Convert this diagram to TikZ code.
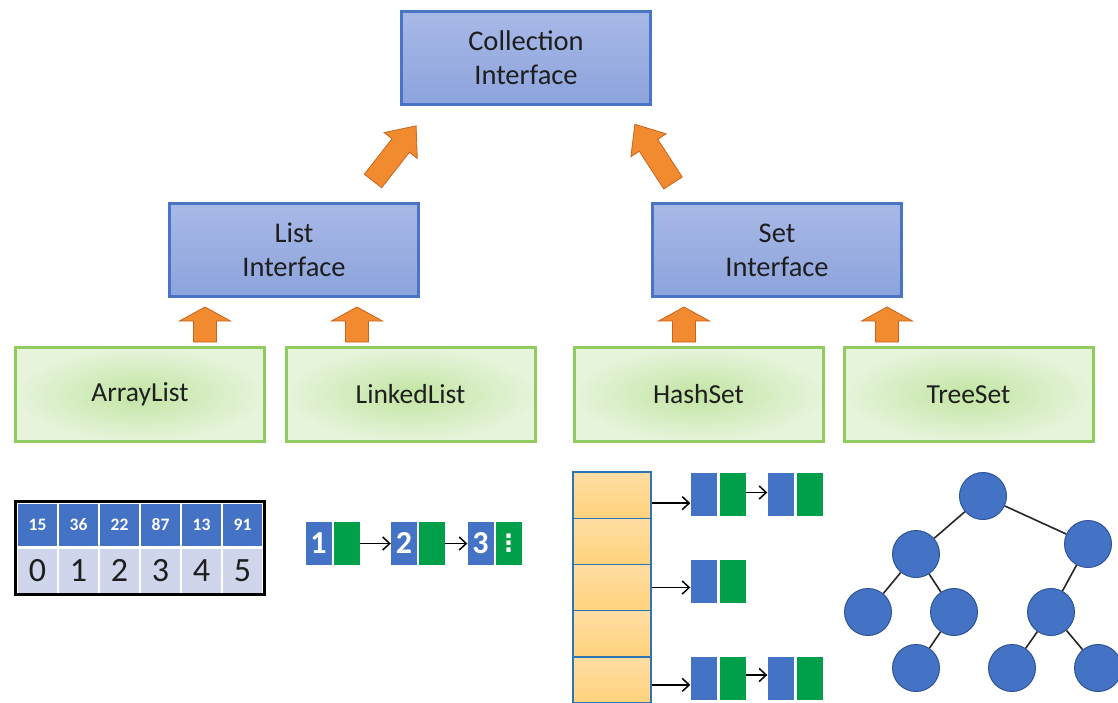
\documentclass[tikz,border=0pt]{standalone}
\usepackage{fontspec}
\setmainfont{Carlito}
\newfontfamily\symfont{DejaVu Sans}
\usetikzlibrary{arrows.meta}

\definecolor{txt}{HTML}{1E1E1E}
\definecolor{ifaceBorder}{HTML}{4A74C6}
\definecolor{ifaceTop}{HTML}{A8B9E7}
\definecolor{ifaceBot}{HTML}{8DA3DC}
\definecolor{implBorder}{HTML}{8FCB5E}
\definecolor{implIn}{HTML}{C2E4A2}
\definecolor{implOut}{HTML}{E6F4DB}
\definecolor{arrowFill}{HTML}{F28A30}
\definecolor{arrowEdge}{HTML}{C7651E}
\definecolor{cellBlue}{HTML}{4472C4}
\definecolor{cellGreen}{HTML}{00A04B}
\definecolor{cellLav}{HTML}{CFD5EA}
\definecolor{bucketTop}{HTML}{FFDDA3}
\definecolor{bucketBot}{HTML}{FFD27C}
\definecolor{bucketEdge}{HTML}{2E75B6}
\definecolor{treeEdge}{HTML}{2F5597}

\begin{document}
\begin{tikzpicture}[x=1pt,y=1pt,
  iface/.style={draw=ifaceBorder, line width=3pt, top color=ifaceTop, bottom color=ifaceBot,
    minimum width=249pt, minimum height=93pt, align=center, text=txt,
    font=\fontsize{28.5}{34}\selectfont},
  impl/.style={draw=implBorder, line width=3pt, inner color=implIn, outer color=implOut,
    minimum width=249pt, minimum height=94pt, align=center, text=txt,
    font=\fontsize{27.5}{34}\selectfont},
  orangeArrow/.style={fill=arrowFill, draw=arrowEdge, line width=0.8pt, line join=miter},
  topcell/.style={fill=cellBlue, minimum width=39pt, minimum height=42pt, inner sep=0pt,
    text=white, font=\fontsize{17.5}{19}\bfseries},
  idxcell/.style={fill=cellLav, minimum width=39pt, minimum height=44pt, inner sep=0pt,
    text=txt, font=\fontsize{34}{36}\selectfont},
  lnval/.style={fill=cellBlue, minimum width=26pt, minimum height=43pt, inner sep=0pt,
    text=white, font=\fontsize{32}{34}\bfseries},
  lnptr/.style={fill=cellGreen, minimum width=26pt, minimum height=43pt, inner sep=0pt,
    text=white, font=\fontsize{24}{26}\symfont\bfseries},
  bucket/.style={draw=bucketEdge, line width=1.4pt, top color=bucketTop, bottom color=bucketBot,
    minimum width=78pt, minimum height=46.2pt, inner sep=0pt},
  ptr/.style={line width=1.5pt, -{Straight Barb[length=7pt,width=13pt]}},
  leaf/.style={circle, fill=cellBlue, draw=treeEdge, line width=1pt, minimum size=47pt, inner sep=0pt},
  treeline/.style={line width=1.6pt, draw=black!85},
  smallarrow/.pic={\draw[orangeArrow] (-11.5,0) -- (-11.5,21) -- (-25.5,21) -- (0,35)
      -- (25.5,21) -- (11.5,21) -- (11.5,0) -- cycle;},
  bigarrow/.pic={\draw[orangeArrow] (-11,0) -- (-11,45) -- (-21,45) -- (0,70)
      -- (21,45) -- (11,45) -- (11,0) -- cycle;}
]
\useasboundingbox (0,0) rectangle (1118,-703);

% interface boxes
\node[iface] (coll) at (526,-58) {Collection\\Interface};
\node[iface] (list) at (294,-250) {List\\Interface};
\node[iface] (set)  at (777,-250) {Set\\Interface};

% implementation boxes
\node[impl] (arr)  at (140,-394.5)   {ArrayList};
\node[impl] (lnk)  at (410.5,-394.5) {LinkedList};
\node[impl] (hash) at (698.5,-394.5) {HashSet};
\node[impl] (tree) at (968.5,-394.5) {TreeSet};

% inheritance arrows
\pic[rotate=-38] at (373,-181) {bigarrow};
\pic[rotate=33]  at (673,-183) {bigarrow};
\pic at (205,-342) {smallarrow};
\pic at (357,-342) {smallarrow};
\pic at (684,-342) {smallarrow};
\pic at (887,-342) {smallarrow};

% array with values and indices
\foreach \v [count=\i from 0] in {15,36,22,87,13,91} {
  \node[topcell] (top\i) at ({17+41*(\i+0.5)},-524.5) {\v};
  \node[idxcell] (idx\i) at ({17+41*(\i+0.5)},-570.5) {\i};
}
\draw[line width=3pt] (15.5,-501.5) rectangle (264.5,-594.5);

% linked list
\node[lnval] (lb1) at (318.5,-543.5) {1};
\node[lnptr] (lg1) at (346.5,-543.5) {};
\node[lnval] (lb2) at (404,-543.5) {2};
\node[lnptr] (lg2) at (432,-543.5) {};
\node[lnval] (lb3) at (480.5,-543.5) {3};
\node[lnptr] (lg3) at (508.5,-543.5) {⋮};
\draw[ptr] (lg1.east) -- (lb2.west);
\draw[ptr] (lg2.east) -- (lb3.west);

% hash table buckets
\foreach \k in {1,...,5} {
  \node[bucket] (hc\k) at (612,{-472-46.2*(\k-0.5)}) {};
}
\node[lnval] (hb1) at (703.5,-494.5) {};
\node[lnptr] (hg1) at (732.5,-494.5) {};
\node[lnval] (hb2) at (780.5,-494.5) {};
\node[lnptr] (hg2) at (809.5,-494.5) {};
\node[lnval] (hb3) at (703.5,-581.5) {};
\node[lnptr] (hg3) at (732.5,-581.5) {};
\node[lnval] (hb4) at (703.5,-678) {};
\node[lnptr] (hg4) at (732.5,-678) {};
\node[lnval] (hb5) at (780.5,-678) {};
\node[lnptr] (hg5) at (809.5,-678) {};
\draw[ptr] ([yshift=-8pt]hc1.east) -- ([yshift=-8pt]hc1.east -| hb1.west);
\draw[ptr] (hc3.east) -- (hc3.east -| hb3.west);
\draw[ptr] ([yshift=-5pt]hc5.east) -- ([yshift=-5pt]hc5.east -| hb4.west);
\draw[ptr] ([yshift=2pt]hg1.east) -- ([yshift=2pt]hb2.west);
\draw[ptr] ([yshift=3pt]hg4.east) -- ([yshift=3pt]hb5.west);

% binary tree
\node[leaf] (tr) at (983,-496) {};
\node[leaf] (ta) at (916,-554) {};
\node[leaf] (tb) at (1088,-544) {};
\node[leaf] (tc) at (868,-612) {};
\node[leaf] (td) at (954,-612) {};
\node[leaf] (te) at (916,-668) {};
\node[leaf] (tf) at (1051,-612) {};
\node[leaf] (tg) at (1012,-668) {};
\node[leaf] (th) at (1098,-668) {};
\draw[treeline] (tr) -- (ta);
\draw[treeline] (tr) -- (tb);
\draw[treeline] (ta) -- (tc);
\draw[treeline] (ta) -- (td);
\draw[treeline] (td) -- (te);
\draw[treeline] (tb) -- (tf);
\draw[treeline] (tf) -- (tg);
\draw[treeline] (tf) -- (th);
\end{tikzpicture}
\end{document}
